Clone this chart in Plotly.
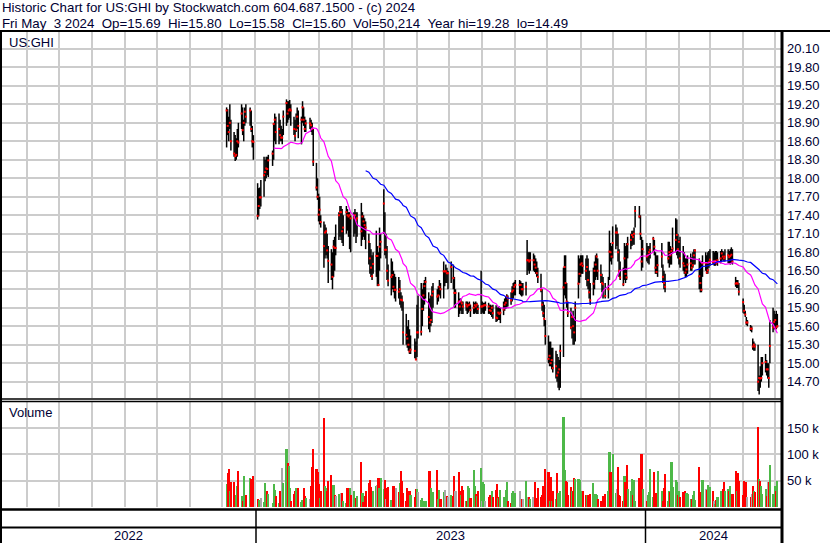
import pandas as pd
import plotly.graph_objects as go

W, H = 830, 543


def px(x):
    return x / W


def py(y):
    return 1 - y / H


TXT = "#000033"
GRID = "#cccccc"
FONT = "Liberation Sans, Arial, sans-serif"

# ---------------- data ----------------
holidays = ["2022-12-26", "2023-01-02", "2023-01-16", "2023-02-20", "2023-04-07",
            "2023-05-29", "2023-06-19", "2023-07-04", "2023-09-04", "2023-11-23",
            "2023-12-25", "2024-01-01", "2024-01-15", "2024-02-19", "2024-03-29"]
trading_days = pd.bdate_range("2022-12-05", "2024-05-03")
trading_days = trading_days[~trading_days.isin(pd.to_datetime(holidays))]
dates = [d.strftime("%Y-%m-%d") for d in trading_days]

high = [
    # Dec 2022
    19.15, 19.12, 19.00, 19.20, 18.95, 18.75, 18.70, 18.65, 18.80, 18.90, 19.20, 19.15, 18.95, 19.15, 19.20, 19.15, 19.10, 18.85, 18.70,
    # Jan 2023
    17.92, 17.84, 17.85, 17.97, 18.35, 18.30, 18.35, 18.35, 18.38, 18.45, 18.90, 19.05, 19.00, 19.05, 18.95, 18.85, 18.80, 19.10, 19.28, 19.25,
    # Feb 2023
    19.25, 19.27, 19.20, 19.00, 18.95, 19.05, 19.15, 19.10, 19.00, 19.25, 19.15, 19.00, 18.95, 18.98, 18.95, 18.90, 18.80, 18.25, 18.00,
    # Mar 2023
    17.75, 17.70, 17.40, 17.30, 17.25, 17.20, 17.10, 16.90, 16.85, 16.80, 17.00, 17.05, 17.25, 17.45, 17.55, 17.55, 17.50, 17.40, 17.55, 17.50, 17.45, 17.45, 17.40,
    # Apr 2023
    17.45, 17.50, 17.45, 17.45, 17.60, 17.45, 17.40, 17.35, 17.30, 17.10, 16.95, 16.85, 16.75, 16.80, 17.15, 16.90, 16.80, 17.20, 17.10,
    # May 2023
    17.82, 17.45, 17.10, 16.90, 16.60, 16.70, 16.65, 16.50, 16.45, 16.40, 16.40, 16.35, 16.15, 16.10, 16.00, 15.80, 15.60, 15.70, 15.55, 15.45, 15.40, 15.35,
    # Jun 2023
    15.95, 16.10, 16.30, 16.20, 16.30, 16.35, 16.40, 16.15, 16.05, 16.10, 16.25, 16.30, 16.20, 16.25, 16.35, 16.30, 16.65, 16.50, 16.60, 16.55, 16.50,
    # Jul 2023
    16.65, 16.60, 16.40, 16.20, 16.15, 16.05, 16.05, 16.00, 16.00, 16.00, 16.00, 15.98, 16.00, 15.95, 16.00, 15.98, 16.00, 15.98, 15.95, 16.50,
    # Aug 2023
    16.00, 15.98, 15.98, 16.00, 15.98, 15.95, 15.95, 15.93, 15.95, 15.94, 15.90, 15.92, 15.92, 15.90, 16.00, 16.05, 16.08, 16.12, 16.10, 16.15, 16.25, 16.30, 16.32,
    # Sep 2023
    16.35, 16.35, 16.33, 16.30, 16.30, 16.32, 17.00, 16.80, 16.80, 16.80, 16.78, 16.75, 16.70, 16.65, 16.55, 16.45, 16.20, 16.00, 15.95, 15.70,
    # Oct 2023
    15.45, 15.35, 15.35, 15.25, 15.25, 15.20, 15.15, 15.10, 15.05, 15.30, 16.55, 16.75, 16.75, 16.30, 16.00, 15.90, 15.80, 15.85, 15.75, 16.00, 16.75, 16.70,
    # Nov 2023
    16.75, 16.75, 16.75, 16.70, 16.75, 16.70, 16.50, 16.30, 16.55, 16.65, 16.75, 16.78, 16.70, 16.60, 16.45, 16.40, 16.30, 16.40, 17.15, 16.95, 16.90,
    # Dec 2023
    17.22, 17.25, 17.20, 17.10, 16.85, 16.65, 16.55, 16.95, 16.90, 16.95, 17.05, 17.10, 17.15, 17.15, 17.20, 17.55, 17.55, 17.40, 17.05, 17.00,
    # Jan 2024
    16.95, 16.90, 16.90, 16.95, 17.05, 17.00, 16.80, 16.75, 16.75, 16.95, 16.60, 16.50, 16.45, 16.97, 16.97, 16.90, 16.85, 17.20, 17.35, 17.33, 17.10,
    # Feb 2024
    17.00, 17.05, 16.90, 16.80, 16.70, 16.70, 16.75, 16.78, 16.72, 16.80, 16.85, 16.85, 16.70, 16.65, 16.65, 16.75, 16.80, 16.75, 16.80, 16.82,
    # Mar 2024
    16.85, 16.82, 16.80, 16.82, 16.82, 16.80, 16.82, 16.85, 16.82, 16.80, 16.85, 16.85, 16.82, 16.85, 16.88, 16.85, 16.40, 16.35, 16.35, 16.30,
    # Apr 2024
    16.05, 15.95, 15.85, 15.75, 15.70, 15.62, 15.60, 15.40, 15.35, 15.32, 15.30, 14.80, 14.95, 15.10, 15.10, 15.15, 15.05, 15.00, 15.00, 15.70, 15.90, 15.85,
    # May 2024
    15.80, 15.85, 15.80,
]

low = [
    # Dec 2022
    18.50, 18.70, 18.60, 18.80, 18.45, 18.35, 18.28, 18.30, 18.35, 18.50, 18.80, 18.70, 18.60, 18.85, 18.90, 18.85, 18.75, 18.50, 18.30,
    # Jan 2023
    17.33, 17.38, 17.50, 17.54, 17.70, 17.95, 18.00, 18.05, 18.02, 18.20, 18.30, 18.60, 18.55, 18.55, 18.60, 18.60, 18.55, 18.70, 18.85, 18.90,
    # Feb 2023
    18.95, 18.98, 18.85, 18.70, 18.60, 18.75, 18.80, 18.65, 18.55, 18.90, 18.85, 18.75, 18.75, 18.80, 18.75, 18.70, 18.20, 17.80, 17.65,
    # Mar 2023
    17.30, 17.25, 17.20, 16.55, 16.70, 16.75, 16.70, 16.30, 16.35, 16.20, 16.40, 16.50, 16.75, 17.00, 17.05, 17.00, 16.95, 16.90, 17.10, 17.15, 17.05, 16.85, 16.80,
    # Apr 2023
    17.05, 17.10, 16.95, 17.05, 16.90, 17.00, 17.05, 17.00, 16.85, 16.60, 16.45, 16.40, 16.35, 16.45, 16.40, 16.25, 16.25, 16.50, 16.70,
    # May 2023
    17.10, 16.75, 16.70, 16.35, 16.25, 16.10, 16.20, 16.15, 16.05, 16.00, 16.05, 15.95, 15.90, 15.85, 15.30, 15.30, 15.25, 15.20, 15.15, 15.15, 15.08, 15.05,
    # Jun 2023
    15.10, 15.40, 15.45, 15.60, 15.85, 15.95, 16.05, 15.55, 15.50, 15.60, 15.65, 15.90, 15.95, 16.00, 16.10, 16.05, 16.05, 16.25, 16.30, 16.30, 16.20,
    # Jul 2023
    16.30, 16.20, 15.90, 15.90, 15.75, 15.80, 15.85, 15.80, 15.80, 15.85, 15.80, 15.82, 15.85, 15.75, 15.80, 15.80, 15.82, 15.80, 15.80, 15.80,
    # Aug 2023
    15.82, 15.80, 15.80, 15.85, 15.80, 15.80, 15.78, 15.75, 15.72, 15.67, 15.68, 15.70, 15.70, 15.65, 15.78, 15.85, 15.88, 15.90, 15.92, 15.95, 16.00, 16.05, 16.10,
    # Sep 2023
    16.10, 16.12, 16.10, 16.08, 16.10, 16.10, 16.43, 16.50, 16.45, 16.50, 16.50, 16.48, 16.45, 16.40, 16.30, 16.15, 15.85, 15.75, 15.60, 15.30,
    # Oct 2023
    15.00, 14.95, 14.95, 14.90, 14.85, 14.75, 14.70, 14.60, 14.56, 14.60, 15.10, 16.10, 16.05, 15.90, 15.75, 15.55, 15.40, 15.30, 15.30, 15.35, 16.05, 16.30,
    # Nov 2023
    16.40, 16.45, 16.45, 16.35, 16.25, 16.20, 16.05, 15.95, 16.10, 16.20, 16.35, 16.40, 16.35, 16.30, 16.15, 16.05, 16.05, 16.05, 16.35, 16.65, 16.60,
    # Dec 2023
    16.70, 16.85, 16.90, 16.65, 16.40, 16.35, 16.25, 16.35, 16.30, 16.35, 16.70, 16.85, 16.90, 16.92, 16.92, 17.20, 17.35, 17.00, 16.50, 16.55,
    # Jan 2024
    16.65, 16.62, 16.60, 16.70, 16.80, 16.75, 16.45, 16.45, 16.40, 16.55, 16.30, 16.20, 16.15, 16.62, 16.55, 16.60, 16.60, 16.78, 16.80, 16.75, 16.70,
    # Feb 2024
    16.60, 16.55, 16.50, 16.45, 16.40, 16.40, 16.45, 16.50, 16.50, 16.55, 16.60, 16.60, 16.20, 16.15, 16.15, 16.40, 16.50, 16.45, 16.45, 16.55,
    # Mar 2024
    16.58, 16.60, 16.58, 16.58, 16.60, 16.58, 16.62, 16.65, 16.68, 16.65, 16.65, 16.62, 16.62, 16.60, 16.62, 16.60, 16.24, 16.22, 16.22, 16.10,
    # Apr 2024
    15.82, 15.80, 15.75, 15.62, 15.60, 15.52, 15.50, 15.22, 15.20, 15.20, 14.55, 14.49, 14.60, 14.70, 14.80, 14.85, 14.80, 14.75, 14.60, 15.00, 15.50, 15.55,
    # May 2024
    15.55, 15.55, 15.58,
]

close = [
    # Dec 2022
    19.10, 18.85, 18.75, 18.90, 18.60, 18.40, 18.36, 18.38, 18.60, 18.58, 19.05, 18.78, 18.90, 19.08, 19.00, 19.10, 18.80, 18.60, 18.59,
    # Jan 2023
    17.39, 17.55, 17.69, 17.69, 18.05, 18.10, 18.16, 18.15, 18.29, 18.40, 18.88, 18.95, 18.75, 18.80, 18.70, 18.66, 18.66, 19.00, 19.22, 19.05,
    # Feb 2023
    19.10, 19.12, 19.10, 18.80, 18.69, 18.79, 19.00, 18.85, 18.95, 19.15, 18.95, 18.80, 18.89, 18.89, 18.86, 18.80, 18.27, 17.85, 17.70,
    # Mar 2023
    17.41, 17.49, 17.29, 16.90, 17.12, 17.14, 16.83, 16.66, 16.60, 16.40, 16.89, 16.87, 16.87, 17.40, 17.45, 17.45, 17.14, 17.20, 17.45, 17.40, 17.38, 17.40, 17.35,
    # Apr 2023
    17.36, 17.40, 17.32, 17.35, 17.14, 17.38, 17.30, 17.24, 17.20, 16.97, 16.70, 16.55, 16.41, 16.61, 16.74, 16.74, 16.27, 16.89, 16.97,
    # May 2023
    17.59, 16.84, 16.84, 16.50, 16.34, 16.40, 16.43, 16.24, 16.19, 16.19, 16.16, 16.20, 16.03, 16.02, 15.50, 15.46, 15.40, 15.30, 15.19, 15.22, 15.20, 15.06,
    # Jun 2023
    15.50, 15.50, 15.51, 15.88, 16.10, 16.25, 16.32, 15.75, 15.66, 15.70, 16.10, 16.16, 16.08, 16.10, 16.24, 16.20, 16.49, 16.49, 16.49, 16.46, 16.46,
    # Jul 2023
    16.56, 16.38, 16.14, 16.14, 16.00, 15.92, 16.00, 15.97, 15.92, 15.95, 15.92, 15.94, 15.95, 15.86, 15.90, 15.94, 15.92, 15.95, 15.88, 15.92,
    # Aug 2023
    15.92, 15.93, 15.94, 15.94, 15.92, 15.86, 15.85, 15.90, 15.81, 15.74, 15.73, 15.82, 15.80, 15.82, 15.87, 15.95, 15.98, 16.08, 16.05, 16.02, 16.16, 16.18, 16.24,
    # Sep 2023
    16.27, 16.27, 16.27, 16.20, 16.20, 16.24, 16.67, 16.67, 16.65, 16.67, 16.67, 16.60, 16.55, 16.46, 16.40, 16.19, 15.95, 15.81, 15.72, 15.44,
    # Oct 2023
    15.07, 15.12, 15.00, 15.05, 14.92, 14.95, 14.80, 14.85, 14.90, 15.20, 16.23, 16.56, 16.30, 16.00, 15.81, 15.58, 15.75, 15.60, 15.50, 15.90, 16.29, 16.45,
    # Nov 2023
    16.60, 16.62, 16.58, 16.50, 16.56, 16.35, 16.15, 16.02, 16.29, 16.50, 16.60, 16.73, 16.50, 16.43, 16.30, 16.28, 16.09, 16.20, 16.81, 16.80, 16.73,
    # Dec 2023
    16.95, 17.12, 17.12, 16.80, 16.50, 16.39, 16.28, 16.70, 16.45, 16.39, 16.93, 17.00, 17.08, 17.05, 17.10, 17.47, 17.38, 17.10, 16.65, 16.85,
    # Jan 2024
    16.73, 16.75, 16.80, 16.84, 17.02, 16.89, 16.55, 16.48, 16.59, 16.73, 16.40, 16.30, 16.24, 16.70, 16.80, 16.75, 16.82, 16.86, 17.00, 17.08, 16.85,
    # Feb 2024
    16.97, 16.70, 16.62, 16.58, 16.47, 16.52, 16.60, 16.62, 16.55, 16.59, 16.75, 16.83, 16.41, 16.30, 16.19, 16.62, 16.62, 16.47, 16.51, 16.64,
    # Mar 2024
    16.68, 16.64, 16.64, 16.66, 16.62, 16.67, 16.70, 16.78, 16.73, 16.70, 16.73, 16.75, 16.72, 16.74, 16.76, 16.65, 16.29, 16.30, 16.29, 16.16,
    # Apr 2024
    15.99, 15.85, 15.79, 15.66, 15.66, 15.56, 15.56, 15.27, 15.30, 15.27, 14.70, 14.76, 14.75, 14.76, 15.00, 15.02, 14.90, 14.90, 14.76, 15.28, 15.58, 15.67,
    # May 2024
    15.70, 15.58, 15.60,
]

# daily volume, thousands of shares
volume_k = [
    # Dec 2022
    43, 64, 72, 31, 47, 47, 23, 22, 39, 68, 20, 12, 58, 22, 23, 56, 53, 43, 58,
    # Jan 2023
    15, 14, 3, 18, 9, 45, 27, 31, 24, 8, 43, 33, 20, 8, 31, 10, 74, 46, 110, 83,
    # Feb 2023
    78, 37, 12, 25, 31, 37, 37, 36, 10, 13, 36, 20, 18, 15, 40, 76, 110, 73, 66,
    # Mar 2023
    44, 18, 30, 170, 40, 37, 31, 49, 60, 25, 41, 23, 20, 25, 18, 27, 27, 12, 8, 37, 23, 37, 23,
    # Apr 2023
    31, 12, 17, 20, 85, 27, 10, 21, 30, 46, 52, 38, 22, 31, 40, 42, 56, 37, 56,
    # May 2023
    35, 51, 15, 37, 38, 14, 14, 40, 18, 36, 29, 46, 68, 49, 26, 12, 37, 22, 30, 22, 19, 35,
    # Jun 2023
    35, 29, 14, 18, 6, 12, 12, 68, 68, 37, 25, 29, 70, 16, 33, 15, 28, 33, 21, 20, 19,
    # Jul 2023
    23, 21, 58, 31, 66, 30, 23, 39, 33, 12, 12, 39, 36, 17, 70, 39, 25, 20, 30, 74,
    # Aug 2023
    12, 47, 43, 12, 19, 22, 19, 31, 19, 33, 44, 17, 19, 33, 19, 19, 33, 47, 12, 8, 26, 31, 15,
    # Sep 2023
    26, 31, 15, 15, 16, 49, 15, 19, 19, 15, 19, 47, 12, 17, 37, 19, 22, 39, 40, 73,
    # Oct 2023
    67, 12, 57, 12, 31, 15, 65, 26, 20, 30, 171, 70, 49, 47, 23, 38, 30, 31, 56, 53, 54, 51,
    # Nov 2023
    30, 31, 31, 22, 23, 23, 22, 24, 45, 22, 25, 22, 15, 12, 9, 20, 25, 31, 104, 67, 27,
    # Dec 2023
    100, 27, 35, 76, 23, 21, 12, 58, 47, 79, 35, 31, 54, 22, 51, 12, 56, 47, 101, 35,
    # Jan 2024
    12, 22, 28, 73, 19, 67, 26, 12, 68, 31, 12, 36, 63, 12, 31, 28, 85, 38, 51, 47, 22,
    # Feb 2024
    31, 19, 28, 22, 30, 26, 25, 15, 15, 22, 31, 14, 77, 28, 19, 51, 35, 33, 41, 38,
    # Mar 2024
    38, 30, 12, 5, 14, 19, 31, 31, 35, 47, 31, 35, 31, 39, 12, 25, 69, 31, 65, 49,
    # Apr 2024
    22, 49, 47, 47, 19, 19, 25, 40, 30, 28, 153, 54, 49, 39, 25, 35, 20, 47, 47, 79, 25, 25,
    # May 2024
    40, 30, 50.214,
]

price_ticks = [14.70, 15.00, 15.30, 15.60, 15.90, 16.20, 16.50, 16.80, 17.10, 17.40,
               17.70, 18.00, 18.30, 18.60, 18.90, 19.20, 19.50, 19.80, 20.10]
volume_ticks = [50000, 100000, 150000]
volume_tick_labels = ["50 k", "100 k", "150 k"]
year_labels = ["2022", "2023", "2024"]

n = len(dates)
assert len(high) == n and len(low) == n and len(close) == n and len(volume_k) == n, (
    n, len(high), len(low), len(close), len(volume_k))

# ---------------- derived ----------------
closes = pd.Series(close)
ma_short = closes.rolling(30).mean()
ma_long = closes.rolling(90).mean()

vol_colors = []
for i, c in enumerate(close):
    if i == 0 or c > close[i - 1]:
        vol_colors.append("#4db848")
    elif c < close[i - 1]:
        vol_colors.append("#ff0000")
    else:
        vol_colors.append("#a8a8a8")

seg_x, seg_y = [], []
for d, h, l in zip(dates, high, low):
    seg_x += [d, d, None]
    seg_y += [l, h, None]

# ---------------- figure ----------------
fig = go.Figure()
fig.add_trace(go.Scatter(x=seg_x, y=seg_y, mode="lines", line=dict(color="black", width=1.5),
                         hoverinfo="skip", xaxis="x", yaxis="y"))
fig.add_trace(go.Scatter(x=dates, y=close, mode="markers",
                         marker=dict(symbol="square", size=2, color="#ff0000", line=dict(width=0)),
                         xaxis="x", yaxis="y"))
fig.add_trace(go.Scatter(x=dates, y=ma_short, mode="lines", line=dict(color="#ff00ff", width=1.2),
                         xaxis="x", yaxis="y"))
fig.add_trace(go.Scatter(x=dates, y=ma_long, mode="lines", line=dict(color="#0000ff", width=1.2),
                         xaxis="x", yaxis="y"))
fig.add_trace(go.Bar(x=dates, y=[v * 1000 for v in volume_k], marker=dict(color=vol_colors, line=dict(width=0)),
                     width=2.0 * 86400000, xaxis="x2", yaxis="y2"))

PLOT_R = 781
x_range = ["2022-05-07 02:00", "2024-05-06 10:00"]
xcommon = dict(type="date", range=x_range, showgrid=True, gridcolor=GRID, gridwidth=2,
               dtick="M1", tick0="2022-01-01", showticklabels=False, ticks="",
               zeroline=False, showline=False, fixedrange=True)

PRICE_TOP, PRICE_BOT = 32, 398
VOL_TOP, VOL_BOT = 402, 507
price_lo = 19.20 - (PRICE_BOT - 104.3) / 61.64
price_hi = 19.20 + (104.3 - PRICE_TOP) / 61.64
vol_hi = (VOL_BOT - VOL_TOP) / 26.3 * 50000

fig.update_layout(
    width=W, height=H, margin=dict(l=0, r=0, t=0, b=0), autosize=False,
    paper_bgcolor="white", plot_bgcolor="white", showlegend=False, bargap=0,
    xaxis=dict(domain=[0, px(PLOT_R)], anchor="y", **xcommon),
    xaxis2=dict(domain=[0, px(PLOT_R)], anchor="y2", matches="x", **xcommon),
    yaxis=dict(domain=[py(PRICE_BOT), py(PRICE_TOP)], range=[price_lo, price_hi], anchor="x",
               side="right", tickvals=price_ticks, ticktext=[f"{v:.2f}" for v in price_ticks],
               showgrid=True, gridcolor=GRID, gridwidth=2, ticks="", zeroline=False, fixedrange=True,
               tickfont=dict(family=FONT, size=13, color=TXT), ticklabelstandoff=5),
    yaxis2=dict(domain=[py(VOL_BOT), py(VOL_TOP)], range=[0, vol_hi], anchor="x2",
                side="right", tickvals=volume_ticks, ticktext=volume_tick_labels,
                showgrid=True, gridcolor=GRID, gridwidth=2, ticks="", zeroline=False, fixedrange=True,
                tickfont=dict(family=FONT, size=13, color=TXT), ticklabelstandoff=5),
)

# frame lines
def hline(y, x0, x1, w=2):
    fig.add_shape(type="line", xref="paper", yref="paper", x0=px(x0), x1=px(x1), y0=py(y), y1=py(y),
                  line=dict(color="black", width=w), layer="above")


def vline(x, y0, y1, w=2):
    fig.add_shape(type="line", xref="paper", yref="paper", x0=px(x), x1=px(x), y0=py(y0), y1=py(y1),
                  line=dict(color="black", width=w), layer="above")


hline(31, 0, W, 2)
hline(399, 0, PLOT_R + 1, 1.5)
hline(401.5, 0, PLOT_R + 1, 1.5)
hline(509.5, 0, PLOT_R + 1, 2.5)
hline(527.5, 0, PLOT_R + 1, 2)
vline(1, 31, H, 2)
vline(PLOT_R + 1, 31, H, 3)
vline(256, 510, H, 1.5)
vline(645.5, 510, H, 1.5)

# texts
def text(x, y, s, size=13, anchor="left"):
    fig.add_annotation(x=px(x), y=py(y), xref="paper", yref="paper", text=s, showarrow=False,
                       xanchor=anchor, yanchor="middle", borderpad=0,
                       font=dict(family=FONT, size=size, color=TXT))

NB = "\u00a0"
S2 = NB * 2
text(1, 8, "Historic Chart for US:GHI by Stockwatch.com 604.687.1500 - (c) 2024", 13.3)
line2 = (f"Fri May{S2}3 2024{S2}Op=15.69{S2}Hi=15.80{S2}Lo=15.58{S2}"
         f"Cl=15.60{S2}Vol=50,214{S2}Year hi=19.28{S2}lo=14.49")
text(1, 23, line2, 13.3)
text(8, 42, "US:GHI", 13)
text(8, 413, "Volume", 13)
for lbl, xc in zip(year_labels, [128, 450.5, 713]):
    text(xc, 535, lbl, 13, "center")

fig.write_html("out.html", config={"displayModeBar": False, "staticPlot": True},
               post_script="document.body.style.margin='0px';document.body.style.overflow='hidden';")
